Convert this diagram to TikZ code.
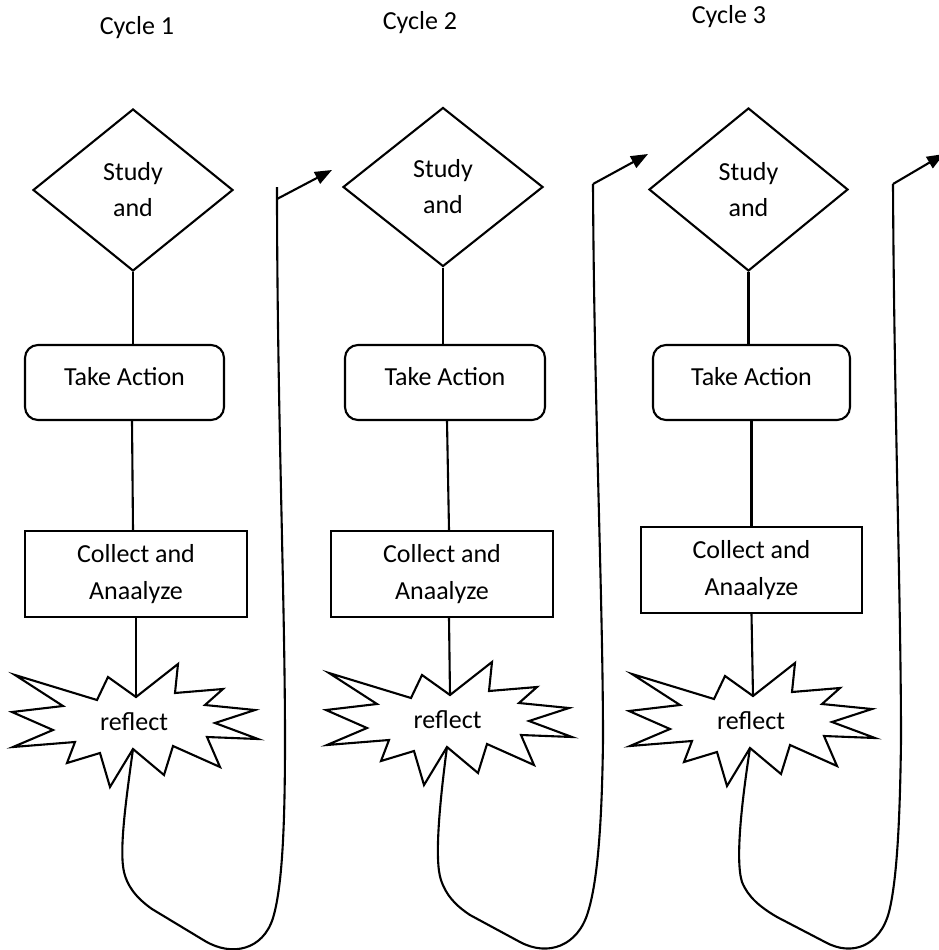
\documentclass[tikz,border=0pt]{standalone}
\usepackage{fontspec}
\setmainfont{Carlito}
\usetikzlibrary{shapes.geometric,arrows.meta}
\begin{document}
\begin{tikzpicture}[x=1pt,y=-1pt, line width=2.1pt,
  every node/.style={font=\fontsize{26pt}{36pt}\selectfont},
  dia/.style={draw, diamond, minimum width=200pt, minimum height=162pt, inner sep=0pt, align=center},
  act/.style={draw, rectangle, rounded corners=13pt, minimum width=199pt, minimum height=75pt, inner sep=0pt, text height=18pt, text depth=13pt},
  colbox/.style={draw, rectangle, minimum width=222pt, minimum height=86pt, inner sep=0pt, align=center, font=\fontsize{26pt}{37pt}\selectfont},
  burst/.style={draw},
  arr/.style={-{Triangle[length=17pt,width=13pt]}},
  lbl/.style={inner sep=0pt}
]
\useasboundingbox (0,0) rectangle (939,950);
\clip (0,0) rectangle (939,950);

% cycle labels
\node[lbl] (c1) at (137,28) {Cycle 1};
\node[lbl] (c2) at (420,23) {Cycle 2};
\node[lbl] (c3) at (729,17) {Cycle 3};

% ---------- column 1 ----------
\node[dia] (d1) at (133,190) {Study\\and};
\node[act] (ta1) at (124.5,382.5) {Take Action};
\node[colbox] (cb1) at (136,574) {Collect and\\Anaalyze};
\draw[burst, shift={(136,720)}] (-121,-45) -- (-39,-20) -- (-28,-43) -- (0,-23) coordinate (r1t) -- (42,-56) -- (39,-27) -- (87,-31) -- (69,-15) -- (119,-10) -- (79,3) -- (122,19) -- (71,17) -- (84,47) -- (37,26) -- (28,55) -- (-3,29) coordinate (r1b) -- (-26,67) -- (-36,33) -- (-69,43) -- (-61,22) -- (-123,27) -- (-83,10) -- (-124,-8) -- (-73,-14) -- cycle;
\node[lbl, anchor=base] (rf1) at (134,730) {reflect};
\draw (d1.south) -- (d1.south |- ta1.north);
\draw ([xshift=7.5pt]ta1.south) -- ([xshift=-3pt]cb1.north);
\draw (cb1.south) -- (r1t);
\coordinate (top1) at (277,187);
\coordinate (as1) at (277,199);
\coordinate (ae1) at (332,170);
\draw (r1b) .. controls (126,800) and (119,850) .. (124,872) .. controls (127,885) and (135,897) .. (152,909) -- (205,941) .. controls (232,957) and (263,950) .. (273,918) .. controls (282,888) and (285,830) .. (285,740) .. controls (285,600) and (277,400) .. (top1);
\draw[arr] (as1) -- (ae1);

% ---------- column 2 ----------
\node[dia, minimum height=159pt] (d2) at (443,187) {Study\\and};
\node[act, minimum width=200pt] (ta2) at (445,382.5) {Take Action};
\node[colbox] (cb2) at (442,574) {Collect and\\Anaalyze};
\draw[burst, shift={(450,718)}] (-121,-45) -- (-39,-20) -- (-28,-43) -- (0,-23) coordinate (r2t) -- (42,-56) -- (39,-27) -- (87,-31) -- (69,-15) -- (119,-10) -- (79,3) -- (122,19) -- (71,17) -- (84,47) -- (37,26) -- (28,55) -- (-3,29) coordinate (r2b) -- (-26,67) -- (-36,33) -- (-69,43) -- (-61,22) -- (-123,27) -- (-83,10) -- (-124,-8) -- (-73,-14) -- cycle;
\node[lbl, anchor=base] (rf2) at (447.5,728) {reflect};
\draw (d2.south) -- (d2.south |- ta2.north);
\draw ([xshift=2pt]ta2.south) -- ([xshift=7pt]cb2.north);
\draw ([xshift=7pt]cb2.south) -- (r2t);
\coordinate (top2) at (593,184);
\coordinate (ae2) at (648,154);
\draw (r2b) .. controls (440,800) and (434,860) .. (441,880) .. controls (446,895) and (455,905) .. (470,915) -- (520,942) .. controls (548,957) and (578,946) .. (588,912) .. controls (598,880) and (602,820) .. (603,740) .. controls (603,600) and (594,400) .. (top2);
\draw[arr] (top2) -- (ae2);

% ---------- column 3 ----------
\node[dia, minimum height=163pt, minimum width=199pt] (d3) at (748.5,189.5) {Study\\and};
\node[act, minimum width=197pt] (ta3) at (751.5,382.5) {Take Action};
\node[colbox, minimum width=221pt] (cb3) at (751.5,570) {Collect and\\Anaalyze};
\draw[burst, shift={(753,719)}] (-121,-45) -- (-39,-20) -- (-28,-43) -- (0,-23) coordinate (r3t) -- (42,-56) -- (39,-27) -- (87,-31) -- (69,-15) -- (119,-10) -- (79,3) -- (122,19) -- (71,17) -- (84,47) -- (37,26) -- (28,55) -- (-3,29) coordinate (r3b) -- (-26,67) -- (-36,33) -- (-69,43) -- (-61,22) -- (-123,27) -- (-83,10) -- (-124,-8) -- (-73,-14) -- cycle;
\node[lbl, anchor=base] (rf3) at (751,729) {reflect};
\draw (d3.south) -- (d3.south |- ta3.north);
\draw (ta3.south) -- (ta3.south |- cb3.north);
\draw (cb3.south) -- (r3t);
\coordinate (top3) at (893,184);
\coordinate (ae3) at (944,154);
\draw (r3b) .. controls (742,800) and (735,860) .. (742,882) .. controls (748,897) and (760,907) .. (777,917) -- (825,942) .. controls (852,957) and (880,946) .. (889,912) .. controls (897,880) and (900,820) .. (901,740) .. controls (901,600) and (894,400) .. (top3);
\draw[arr] (top3) -- (ae3);
\end{tikzpicture}
\end{document}
